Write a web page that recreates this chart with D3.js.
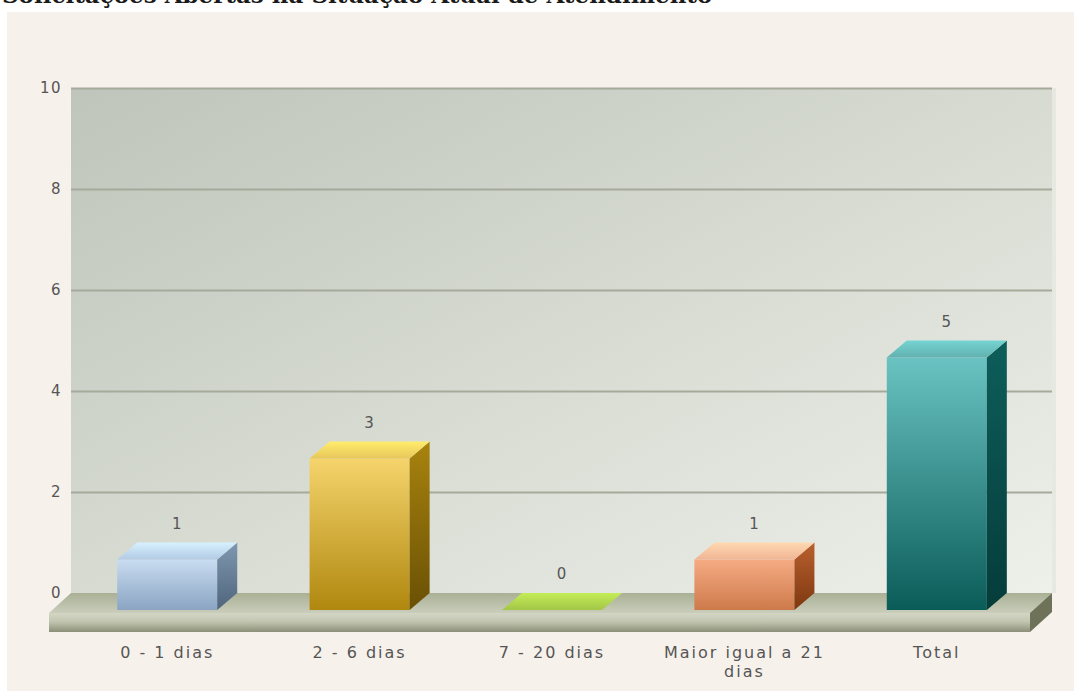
<!DOCTYPE html>
<html>
<head>
<meta charset="utf-8">
<script src="https://cdn.jsdelivr.net/npm/d3@7"></script>
<style>
  html, body { margin: 0; padding: 0; background: #ffffff; }
  svg { display: block; }
  text { font-family: "DejaVu Sans", Verdana, sans-serif; }
</style>
</head>
<body>
<svg id="chart" width="1074" height="691"></svg>
<script>
// Chart data
const titleText = "Solicitações Abertas na Situação Atual de Atendimento";
const categories = ["0 - 1 dias", "2 - 6 dias", "7 - 20 dias", "Maior igual a 21 dias", "Total"];
const values = [1, 3, 0, 1, 5];
const yTicks = [0, 2, 4, 6, 8, 10];

// Face colours per bar: [front top, front bottom, top face, side light, side dark]
const palette = [
  ["#c9dcf1", "#8aa4c2", "#b3cae4", "#7f97b0", "#4e657c"],
  ["#f5d46c", "#b0880f", "#e8c65a", "#a8830e", "#6a5005"],
  ["#b6d35a", "#88ad2c", "#a3c648", "#7d9d28", "#5b7a16"],
  ["#f6ab83", "#cd7a4b", "#f0b594", "#b9602e", "#7e3810"],
  ["#6ac3c2", "#0a5c58", "#62b1b0", "#0d5e5b", "#053c3a"]
];

const svg = d3.select("#chart");
const defs = svg.append("defs");

// 3D geometry: back plane offset from the front plane
const depthX = 20, depthY = 17;
const floorDX = 22, floorDY = 20, floorH = 19;

const wall = { left: 71, right: 1052, top: 88 };
const y = d3.scaleLinear().domain([0, 10]).range([593, 88]);
const x = d3.scaleBand().domain(categories).range([71, 1033]).paddingInner(0.48).paddingOuter(0.24);

// Page panel
svg.append("rect").attr("x", 7).attr("y", 12).attr("width", 1067).attr("height", 679).attr("fill", "#f7f1ec");

// Title (runs off the top edge of the page)
svg.append("text").attr("x", 2).attr("y", 3)
  .attr("font-weight", "bold").attr("font-size", 23).attr("fill", "#1a1a1a")
  .style("font-family", "'DejaVu Serif', 'Liberation Serif', serif")
  .text(titleText);

// Wall gradient
const wg = defs.append("linearGradient").attr("id", "wallGrad")
  .attr("x1", "0%").attr("y1", "0%").attr("x2", "100%").attr("y2", "100%");
wg.append("stop").attr("offset", "0%").attr("stop-color", "#bfc5ba");
wg.append("stop").attr("offset", "55%").attr("stop-color", "#d9ddd4");
wg.append("stop").attr("offset", "100%").attr("stop-color", "#eef0ea");

svg.append("rect")
  .attr("x", wall.left).attr("y", wall.top)
  .attr("width", wall.right - wall.left).attr("height", y(0) - wall.top + 4)
  .attr("fill", "url(#wallGrad)");
// right edge of the wall
svg.append("rect")
  .attr("x", wall.right).attr("y", wall.top).attr("width", 4).attr("height", y(0) - wall.top)
  .attr("fill", "#e6e8e1");

// Grid lines
const grid = svg.append("g")
  .attr("transform", `translate(${wall.left},0)`)
  .call(d3.axisRight(y).tickValues(yTicks.filter(d => d > 0)).tickSize(wall.right - wall.left).tickFormat(""));
grid.select(".domain").remove();
grid.selectAll(".tick line").attr("stroke", "#a5aa9b").attr("stroke-width", 1.8);

// Floor
const fy0 = y(0);
const floorTopG = defs.append("linearGradient").attr("id", "floorTop").attr("x1", 0).attr("y1", 0).attr("x2", 0).attr("y2", 1);
floorTopG.append("stop").attr("offset", "0%").attr("stop-color", "#aab095");
floorTopG.append("stop").attr("offset", "100%").attr("stop-color", "#c9cdbb");
const floorFrontG = defs.append("linearGradient").attr("id", "floorFront").attr("x1", 0).attr("y1", 0).attr("x2", 0).attr("y2", 1);
floorFrontG.append("stop").attr("offset", "0%").attr("stop-color", "#d3d6c4");
floorFrontG.append("stop").attr("offset", "45%").attr("stop-color", "#c2c6b1");
floorFrontG.append("stop").attr("offset", "100%").attr("stop-color", "#8c8f78");

svg.append("polygon")
  .attr("points", [[wall.left, fy0], [wall.right, fy0], [wall.right - floorDX, fy0 + floorDY], [wall.left - floorDX, fy0 + floorDY]].join(" "))
  .attr("fill", "url(#floorTop)");
svg.append("rect")
  .attr("x", wall.left - floorDX).attr("y", fy0 + floorDY)
  .attr("width", wall.right - wall.left).attr("height", floorH)
  .attr("fill", "url(#floorFront)");
svg.append("polygon")
  .attr("points", [[wall.right - floorDX, fy0 + floorDY], [wall.right, fy0], [wall.right, fy0 + floorH], [wall.right - floorDX, fy0 + floorDY + floorH]].join(" "))
  .attr("fill", "#6e7259");

// Y axis labels
const yAxis = svg.append("g")
  .attr("transform", "translate(62,0)")
  .call(d3.axisLeft(y).tickValues(yTicks).tickSize(0).tickPadding(0));
yAxis.select(".domain").remove();
yAxis.selectAll("text")
  .attr("font-family", "'DejaVu Sans', Verdana, sans-serif")
  .attr("font-size", 15).attr("fill", "#555").attr("letter-spacing", 1.5);

// Bars
const bars = svg.append("g");
categories.forEach((c, i) => {
  const v = values[i], col = palette[i];
  const x0 = x(c), w = x.bandwidth();
  const yb = y(v), y0b = y(0);
  const fTop = yb + depthY, fBot = y0b + depthY;

  const fg = defs.append("linearGradient").attr("id", "front" + i).attr("x1", 0).attr("y1", 0).attr("x2", 0).attr("y2", 1);
  fg.append("stop").attr("offset", "0%").attr("stop-color", col[0]);
  fg.append("stop").attr("offset", "100%").attr("stop-color", col[1]);
  const sg = defs.append("linearGradient").attr("id", "side" + i).attr("x1", 0).attr("y1", 0).attr("x2", 0).attr("y2", 1);
  sg.append("stop").attr("offset", "0%").attr("stop-color", col[3]);
  sg.append("stop").attr("offset", "100%").attr("stop-color", col[4]);
  const tg = defs.append("linearGradient").attr("id", "top" + i).attr("x1", 0).attr("y1", 1).attr("x2", 0).attr("y2", 0);
  tg.append("stop").attr("offset", "0%").attr("stop-color", col[2]);
  tg.append("stop").attr("offset", "100%").attr("stop-color", d3.color(col[2]).brighter(0.5));

  if (v > 0) {
    bars.append("rect").attr("x", x0).attr("y", fTop).attr("width", w).attr("height", fBot - fTop)
      .attr("fill", `url(#front${i})`);
    bars.append("polygon")
      .attr("points", [[x0 + w, fTop], [x0 + w + depthX, yb], [x0 + w + depthX, y0b], [x0 + w, fBot]].join(" "))
      .attr("fill", `url(#side${i})`);
  }
  bars.append("polygon")
    .attr("points", [[x0, fTop], [x0 + w, fTop], [x0 + w + depthX, yb], [x0 + depthX, yb]].join(" "))
    .attr("fill", `url(#top${i})`);

  // value label
  bars.append("text")
    .attr("x", x0 + w / 2 + depthX / 2).attr("y", yb - 14)
    .attr("text-anchor", "middle")
    .attr("font-size", 15).attr("fill", "#555").attr("letter-spacing", 1)
    .text(v);
});

// Category labels
const xAxis = svg.append("g")
  .attr("transform", "translate(0,646)")
  .call(d3.axisBottom(x).tickSize(0).tickPadding(0).tickFormat(""));
xAxis.select(".domain").remove();
xAxis.selectAll(".tick").each(function(d) {
  const words = d.length > 16 ? [d.slice(0, d.lastIndexOf(" ")), d.slice(d.lastIndexOf(" ") + 1)] : [d];
  const t = d3.select(this).append("text")
    .attr("text-anchor", "middle")
    .attr("font-family", "'DejaVu Sans', Verdana, sans-serif")
    .attr("font-size", 16).attr("fill", "#555").attr("letter-spacing", 2);
  words.forEach((wd, k) => t.append("tspan").attr("x", 0).attr("y", 12 + k * 19).text(wd));
});
</script>
</body>
</html>
